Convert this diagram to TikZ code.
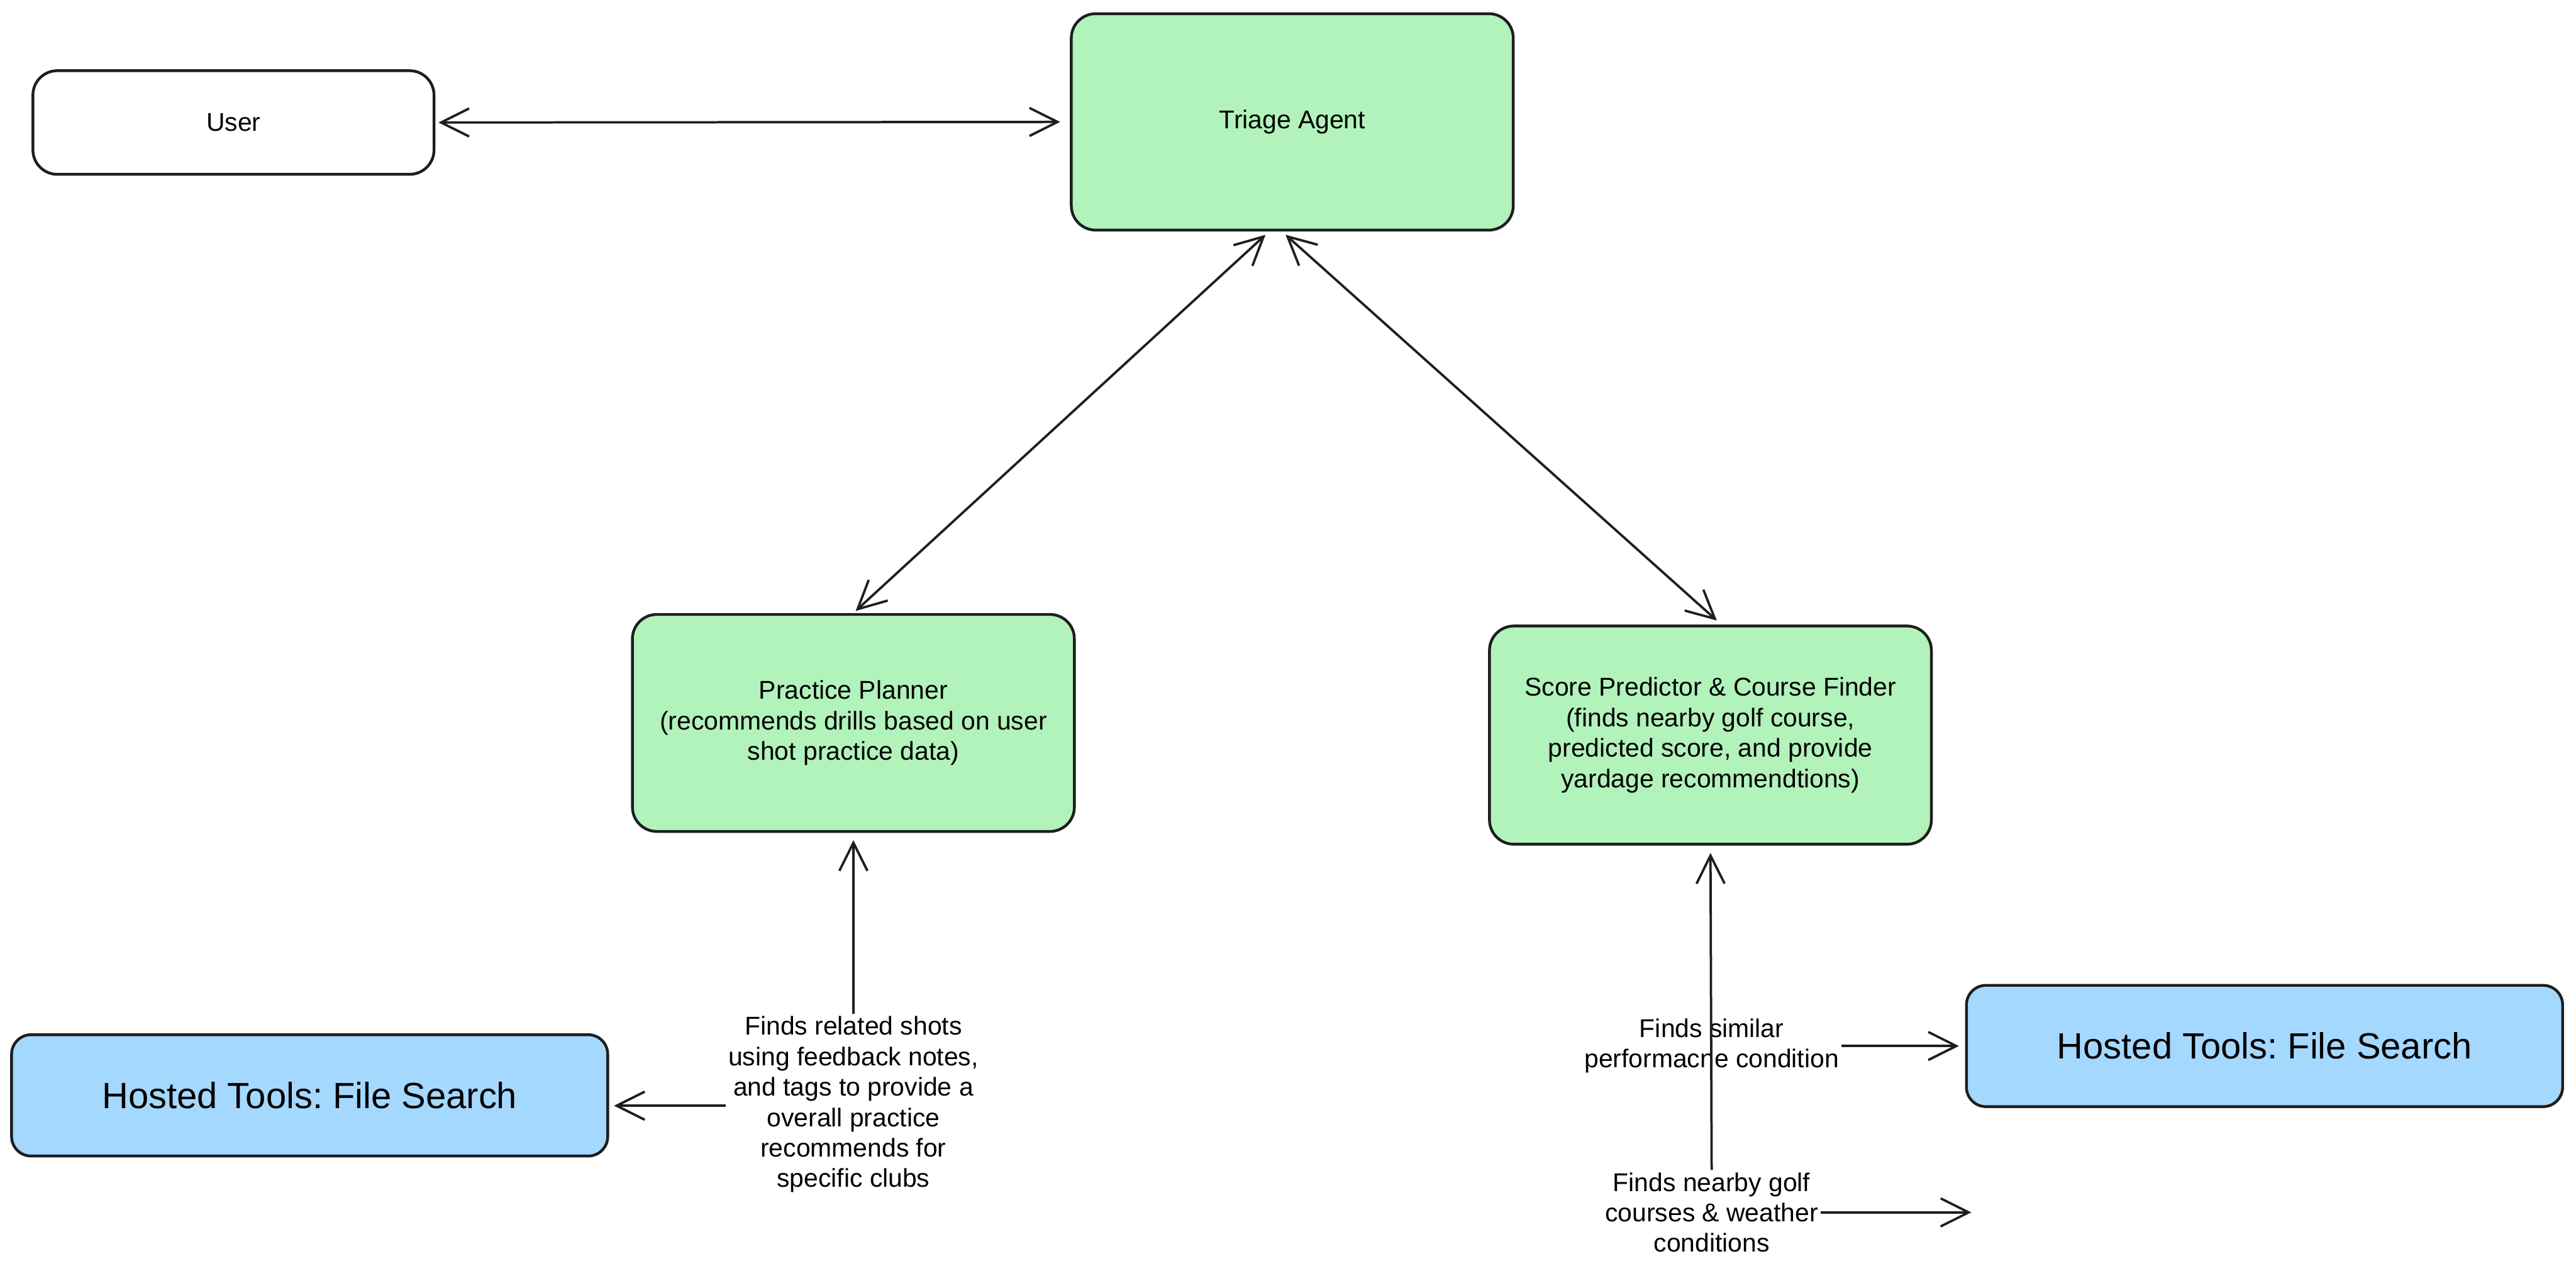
\documentclass[tikz,border=0pt]{standalone}
\usepackage{fontspec}
\setmainfont{Liberation Sans}
\frenchspacing
\usetikzlibrary{arrows.meta}
\definecolor{agentgreen}{HTML}{B2F2BB}
\definecolor{toolblue}{HTML}{A5D8FF}
\definecolor{ink}{HTML}{1E1E1E}
\begin{document}
\begin{tikzpicture}[
    box/.style={draw=ink, line width=1.3pt, rounded corners=0.4cm, align=center,
                font=\fontsize{12}{14.2}\selectfont, inner sep=0pt},
    agent/.style={box, fill=agentgreen, minimum width=7.25cm, minimum height=3.56cm},
    tool/.style={box, fill=toolblue, rounded corners=0.32cm, minimum width=9.78cm,
                 minimum height=1.99cm, font=\fontsize{17}{20}\selectfont},
    note/.style={align=center, font=\fontsize{12}{14.2}\selectfont, inner sep=1pt},
    link/.style={draw=ink, line width=1.1pt,
                 arrows={-Straight Barb[length=4.6mm, width=4.6mm]}},
    biline/.style={link, arrows={Straight Barb[length=4.6mm, width=4.6mm]-Straight Barb[length=4.6mm, width=4.6mm]}}
  ]
    \useasboundingbox (0, 0) rectangle (42.26, -20.85);
    \node[box, minimum width=6.58cm, minimum height=1.70cm] (user) at (3.83, -2.01) {User};
    \node[agent, minimum height=3.55cm] (triage) at (21.20, -2.00) {Triage Agent};
    \node[agent] (planner) at (14.00, -11.86)
      {Practice Planner\\(recommends drills based on user\\shot practice data)};
    \node[agent, minimum height=3.58cm] (scorer) at (28.06, -12.06)
      {Score Predictor \& Course Finder\\(finds nearby golf course,\\predicted score, and provide\\yardage recommendtions)};
    \node[tool] (searchl) at (5.08, -17.97) {Hosted Tools: File Search};
    \node[tool] (searchr) at (37.15, -17.16) {Hosted Tools: File Search};
    % notes on the tool calls
    \node[note] (shotnote) at (14.00, -18.12)
      {Finds related shots\\using feedback notes,\\and tags to provide a\\overall practice\\recommends for\\specific clubs};
    \node[note] (condnote) at (28.08, -17.16) {Finds similar\\performacne condition};
    \node[note] (weathernote) at (28.08, -19.89)
      {Finds nearby golf\\courses \& weather\\conditions};
    \coordinate (weatherend) at (32.34, -19.89);
    % connectors
    \draw[biline, shorten <=0.05cm, shorten >=0.16cm] (user.east) -- (triage.west);
    \draw[biline, shorten <=0.08cm, shorten >=0.05cm] ([xshift=-0.38cm]triage.south) -- (planner.north);
    \draw[biline, shorten <=0.08cm, shorten >=0.1cm] ([xshift=-0.17cm]triage.south) -- ([xshift=0.18cm]scorer.north);
    \draw[link, shorten >=0.12cm] (shotnote.north) -- (planner.south);
    \draw[link, shorten >=0.08cm] (shotnote.west |- 0, -18.14) -- (searchl.east |- 0, -18.14);
    \draw[link, shorten >=0.12cm] (weathernote.north) -- (scorer.south);
    \draw[link, shorten >=0.1cm] (condnote.east) -- (searchr.west);
    \draw[link] (weathernote.east) -- (weatherend);
  \end{tikzpicture}
\end{document}
